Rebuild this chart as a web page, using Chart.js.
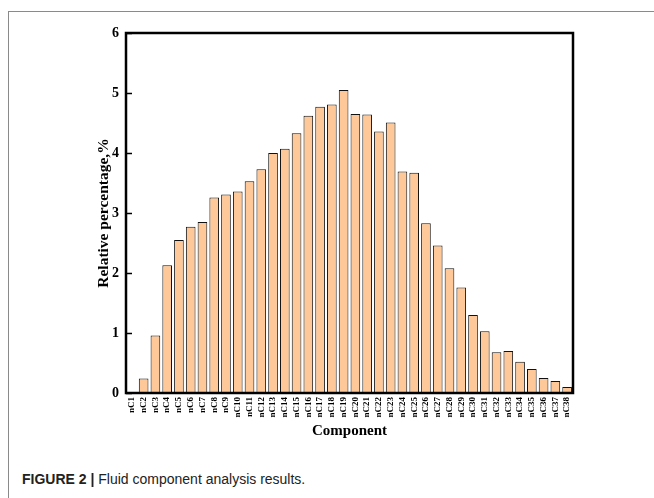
<!DOCTYPE html>
<html>
<head>
<meta charset="utf-8">
<script src="https://cdn.jsdelivr.net/npm/chart.js@4"></script>
<style>
  body { margin: 0; background: #fff; }
  #wrap { position: relative; width: 654px; height: 498px; overflow: hidden; }
  #frameTop { position: absolute; left: 8px; top: 11px; width: 646px; height: 1px; background: #8a8a8a; }
  #frameLeft { position: absolute; left: 8px; top: 11px; width: 1px; height: 487px; background: #8a8a8a; }
  #box { position: absolute; left: 0; top: 0; width: 654px; height: 460px; }
  #caption { position: absolute; left: 22px; top: 471px; font-family: "Liberation Sans", Arial, sans-serif; font-size: 14px; color: #222; }
  #caption b { font-weight: bold; }
</style>
</head>
<body>
<div id="wrap">
  <div id="frameTop"></div>
  <div id="frameLeft"></div>
  <div id="box"><canvas id="compChart" width="654" height="460"></canvas></div>
  <div id="caption"><b>FIGURE 2 |</b> Fluid component analysis results.</div>
</div>
<script>
// components nC1..nC38
const components = ["nC1","nC2","nC3","nC4","nC5","nC6","nC7","nC8","nC9","nC10",
  "nC11","nC12","nC13","nC14","nC15","nC16","nC17","nC18","nC19","nC20",
  "nC21","nC22","nC23","nC24","nC25","nC26","nC27","nC28","nC29","nC30",
  "nC31","nC32","nC33","nC34","nC35","nC36","nC37","nC38"];
// relative percentage, %
const percentages = [0, 0.24, 0.96, 2.13, 2.55, 2.77, 2.85, 3.26, 3.31, 3.36,
  3.53, 3.73, 4.0, 4.07, 4.33, 4.62, 4.77, 4.81, 5.05, 4.65,
  4.64, 4.36, 4.51, 3.69, 3.67, 2.83, 2.46, 2.08, 1.76, 1.30,
  1.03, 0.68, 0.70, 0.52, 0.40, 0.25, 0.20, 0.10];
const yTicks = [0, 1, 2, 3, 4, 5, 6];

const serif = "'Liberation Serif', 'Times New Roman', serif";

// box around the plot plus short inward ticks on y
const framePlugin = {
  id: 'frame',
  afterDraw(chart) {
    const { ctx, chartArea: a } = chart;
    const y = chart.scales.y;
    ctx.save();
    ctx.strokeStyle = '#000';
    ctx.lineWidth = 1.5;
    yTicks.forEach(v => {
      const py = Math.round(y.getPixelForValue(v)) + 0.5;
      ctx.beginPath();
      ctx.moveTo(a.left, py);
      ctx.lineTo(a.left + 6, py);
      ctx.stroke();
    });
    ctx.lineWidth = 2.5;
    ctx.strokeRect(a.left, a.top, a.right - a.left, a.bottom - a.top);
    ctx.restore();
  }
};

new Chart(document.getElementById('compChart').getContext('2d'), {
  type: 'bar',
  data: {
    labels: components,
    datasets: [{
      data: percentages,
      backgroundColor: 'rgb(255, 200, 152)',
      borderColor: '#111',
      borderWidth: 1,
      borderSkipped: 'bottom',
      barPercentage: 0.82,
      categoryPercentage: 1.0
    }]
  },
  options: {
    responsive: false,
    animation: false,
    layout: { padding: { left: 95, top: 33, right: 81, bottom: 20 } },
    plugins: { legend: { display: false }, tooltip: { enabled: false } },
    scales: {
      x: {
        grid: { display: false, drawTicks: false },
        border: { display: false },
        afterFit(scale) { scale.height = 47; },
        ticks: {
          autoSkip: false,
          minRotation: 90,
          maxRotation: 90,
          padding: 4,
          color: '#000',
          font: { family: serif, size: 9, weight: 'bold' }
        },
        title: {
          display: true,
          text: 'Component',
          color: '#000',
          padding: { top: 0, bottom: 0 },
          font: { family: serif, size: 15, weight: 'bold' }
        }
      },
      y: {
        min: 0,
        max: 6,
        afterFit(scale) { scale.width = 31; },
        afterBuildTicks(scale) { scale.ticks = yTicks.map(v => ({ value: v })); },
        grid: { display: false, drawTicks: false },
        border: { display: false },
        ticks: {
          padding: 7,
          color: '#000',
          font: { family: serif, size: 14, weight: 'bold' }
        },
        title: {
          display: true,
          text: 'Relative percentage,%',
          color: '#000',
          padding: { top: 0, bottom: 0 },
          font: { family: serif, size: 15.5, weight: 'bold' }
        }
      }
    }
  },
  plugins: [framePlugin]
});
</script>
</body>
</html>
